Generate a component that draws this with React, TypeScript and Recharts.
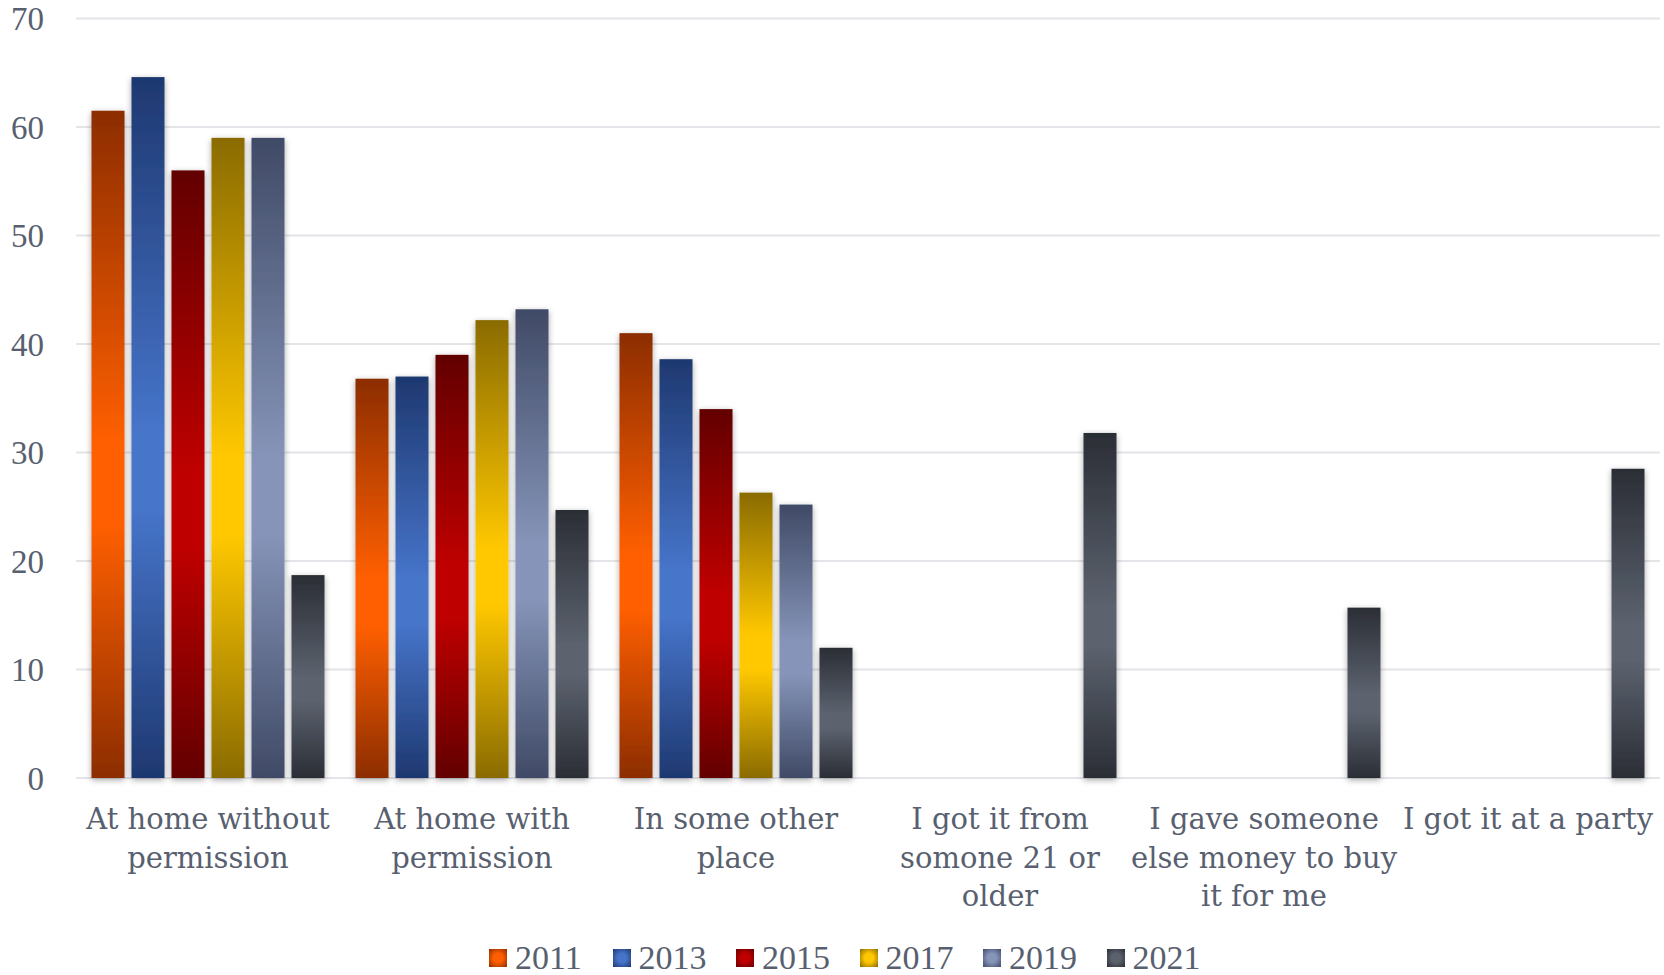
import { BarChart, Bar, XAxis, YAxis, CartesianGrid } from 'recharts';

// Where underage drinkers got alcohol, % by survey year
const categories = [
  'At home without permission',
  'At home with permission',
  'In some other place',
  'I got it from somone 21 or older',
  'I gave someone else money to buy it for me',
  'I got it at a party',
];

// wrapped tick text, one entry per category
const categoryLines = [
  ['At home without', 'permission'],
  ['At home with', 'permission'],
  ['In some other', 'place'],
  ['I got it from', 'somone 21 or', 'older'],
  ['I gave someone', 'else money to buy', 'it for me'],
  ['I got it at a party'],
];

const years = ['2011', '2013', '2015', '2017', '2019', '2021'];

const v2011 = [61.5, 36.8, 41.0, null, null, null];
const v2013 = [64.6, 37.0, 38.6, null, null, null];
const v2015 = [56.0, 39.0, 34.0, null, null, null];
const v2017 = [59.0, 42.2, 26.3, null, null, null];
const v2019 = [59.0, 43.2, 25.2, null, null, null];
const v2021 = [18.7, 24.7, 12.0, 31.8, 15.7, 28.5];

const yTicks = [0, 10, 20, 30, 40, 50, 60, 70];

// dark edge / bright middle for each year's gradient
const palette: Record<string, [string, string]> = {
  '2011': ['#8c2d00', '#ff5f00'],
  '2013': ['#1e3870', '#4674c9'],
  '2015': ['#620000', '#bf0000'],
  '2017': ['#8a6b00', '#ffc800'],
  '2019': ['#404a66', '#8594b8'],
  '2021': ['#2b2e35', '#5b626e'],
};

const seriesValues = [v2011, v2013, v2015, v2017, v2019, v2021];

const data = categories.map((name, i) => {
  const row: Record<string, string | number | null> = { name };
  years.forEach((y, s) => {
    row[y] = seriesValues[s][i];
  });
  return row;
});

const TEXT = '#58606f';
const LABEL_FONT = '"DejaVu Serif", serif';
const NUM_FONT = '"Liberation Serif", serif';

function CategoryTick(props: any) {
  const { x, y, payload } = props;
  const idx = categories.indexOf(payload.value);
  const lines = categoryLines[idx] ?? [payload.value];
  return (
    <text x={x} y={y} textAnchor="middle" fill={TEXT} fontFamily={LABEL_FONT} fontSize={29}>
      {lines.map((line, i) => (
        <tspan key={i} x={x} dy={i === 0 ? 21 : 38.5}>
          {line}
        </tspan>
      ))}
    </text>
  );
}

function ShadowBar(props: any) {
  const { x, y, width, height, fill } = props;
  if (!height || height <= 0) return <g />;
  return <rect x={x} y={y} width={width} height={height} fill={fill} filter="url(#barShadow)" />;
}

function YearLegend() {
  return (
    <div
      style={{
        position: 'absolute',
        left: 489,
        top: 942,
        height: 32,
        display: 'flex',
        alignItems: 'center',
      }}
    >
      {years.map((y) => (
        <div key={y} style={{ display: 'flex', alignItems: 'center', width: 123.5 }}>
          <span
            style={{
              display: 'inline-block',
              width: 18,
              height: 18,
              marginRight: 8,
              background: `radial-gradient(circle, ${palette[y][1]} 35%, ${palette[y][0]} 100%)`,
            }}
          />
          <span
            style={{
              fontFamily: NUM_FONT,
              fontSize: 34,
              lineHeight: '32px',
              color: TEXT,
            }}
          >
            {y}
          </span>
        </div>
      ))}
    </div>
  );
}

export default function App() {
  return (
    <div style={{ position: 'absolute', left: 0, top: 0, width: 1664, height: 975, background: '#fff' }}>
      <BarChart
        width={1664}
        height={975}
        data={data}
        margin={{ top: 18.5, right: 4, left: 16, bottom: 47 }}
        barCategoryGap={15.5}
        barGap={7}
      >
        <defs>
          <filter id="barShadow" x="-50%" y="-10%" width="200%" height="120%">
            <feDropShadow dx="0" dy="2" stdDeviation="3" floodColor="#000" floodOpacity="0.35" />
          </filter>
          {years.map((y) => (
            <linearGradient key={y} id={`grad${y}`} x1="0" y1="0" x2="0" y2="1">
              <stop offset="0%" stopColor={palette[y][0]} />
              <stop offset="50%" stopColor={palette[y][1]} />
              <stop offset="62%" stopColor={palette[y][1]} />
              <stop offset="100%" stopColor={palette[y][0]} />
            </linearGradient>
          ))}
        </defs>
        <CartesianGrid vertical={false} stroke="#e4e4e9" strokeWidth={2} />
        <XAxis
          dataKey="name"
          axisLine={false}
          tickLine={false}
          tickSize={0}
          tickMargin={30}
          height={150}
          interval={0}
          tick={<CategoryTick />}
        />
        <YAxis
          domain={[0, 70]}
          ticks={yTicks}
          axisLine={false}
          tickLine={false}
          tickSize={0}
          tickMargin={32}
          width={60}
          tick={{ fill: TEXT, fontSize: 33, fontFamily: NUM_FONT }}
        />
        {years.map((y) => (
          <Bar
            key={y}
            dataKey={y}
            fill={`url(#grad${y})`}
            shape={<ShadowBar />}
            isAnimationActive={false}
          />
        ))}
      </BarChart>
      <YearLegend />
    </div>
  );
}
